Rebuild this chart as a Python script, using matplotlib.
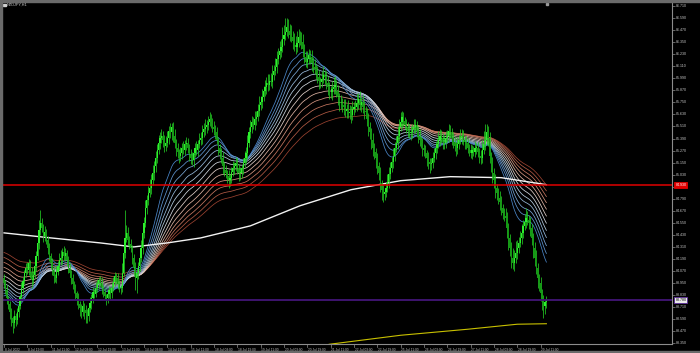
import numpy as np
import matplotlib
matplotlib.use("Agg")
import matplotlib.pyplot as plt
from matplotlib.patches import Rectangle

# ---------------- data ----------------
symbol_title = "NZDJPY,H1"
time_labels = ["8 Jul 2022", "8 Jul 19:00", "11 Jul 11:00", "12 Jul 03:00", "12 Jul 19:00",
               "13 Jul 11:00", "14 Jul 03:00", "14 Jul 19:00", "15 Jul 11:00", "18 Jul 03:00",
               "18 Jul 19:00", "19 Jul 11:00", "20 Jul 03:00", "20 Jul 19:00", "21 Jul 11:00",
               "22 Jul 03:00", "22 Jul 19:00", "25 Jul 11:00", "26 Jul 03:00", "26 Jul 19:00",
               "27 Jul 11:00", "28 Jul 03:00", "28 Jul 19:00", "29 Jul 11:00"]
bars_per_label = 16

# hourly closes (one row per 16 bars)
close = [
    83.95, 83.88, 83.80, 83.74, 83.66, 83.60, 83.55, 83.62, 83.58, 83.66, 83.72, 83.81, 83.90, 83.97, 84.05, 84.10,
    84.08, 84.15, 84.06, 83.98, 84.03, 84.12, 84.22, 84.35, 84.48, 84.55, 84.50, 84.42, 84.46, 84.38, 84.30, 84.22,
    84.15, 84.08, 84.02, 84.00, 84.06, 84.12, 84.18, 84.20, 84.26, 84.22, 84.25, 84.18, 84.10, 84.05, 84.00, 83.94,
    83.90, 83.85, 83.80, 83.74, 83.70, 83.66, 83.72, 83.68, 83.65, 83.62, 83.70, 83.75, 83.80, 83.86, 83.84, 83.90,
    83.94, 83.98, 83.95, 83.90, 83.86, 83.82, 83.80, 83.84, 83.88, 83.85, 83.90, 83.96, 84.02, 84.00, 83.94, 83.90,
    83.90, 84.05, 84.25, 84.40, 84.45, 84.38, 84.34, 84.30, 84.20, 84.10, 84.00, 84.05, 84.12, 84.20, 84.30, 84.45,
    84.55, 84.70, 84.78, 84.85, 84.90, 84.98, 85.05, 85.12, 85.20, 85.28, 85.35, 85.40, 85.42, 85.38, 85.32, 85.35,
    85.40, 85.46, 85.45, 85.50, 85.42, 85.35, 85.30, 85.26, 85.22, 85.25, 85.30, 85.28, 85.34, 85.35, 85.30, 85.24,
    85.20, 85.18, 85.25, 85.30, 85.28, 85.34, 85.38, 85.40, 85.45, 85.48, 85.50, 85.52, 85.55, 85.58, 85.55, 85.50,
    85.48, 85.45, 85.38, 85.30, 85.25, 85.20, 85.12, 85.08, 85.05, 85.02, 84.98, 85.00, 85.06, 85.10, 85.12, 85.15,
    85.10, 85.05, 85.05, 85.10, 85.15, 85.20, 85.25, 85.35, 85.45, 85.50, 85.55, 85.52, 85.58, 85.60, 85.66, 85.72,
    85.75, 85.80, 85.86, 85.90, 85.94, 85.92, 85.96, 85.95, 86.02, 86.06, 86.10, 86.18, 86.22, 86.26, 86.30, 86.38,
    86.42, 86.45, 86.50, 86.46, 86.42, 86.40, 86.36, 86.32, 86.30, 86.34, 86.40, 86.38, 86.35, 86.28, 86.20, 86.15,
    86.18, 86.22, 86.20, 86.14, 86.10, 86.08, 86.05, 86.00, 85.96, 85.95, 85.98, 86.02, 86.00, 85.94, 85.90, 85.85,
    85.85, 85.88, 85.90, 85.92, 85.86, 85.80, 85.75, 85.74, 85.72, 85.70, 85.66, 85.68, 85.64, 85.65, 85.62, 85.68,
    85.70, 85.70, 85.74, 85.78, 85.72, 85.75, 85.70, 85.66, 85.65, 85.58, 85.50, 85.45, 85.38, 85.30, 85.26, 85.20,
    85.12, 85.05, 84.95, 84.88, 84.84, 84.86, 84.90, 84.96, 85.04, 85.10, 85.16, 85.22, 85.30, 85.35, 85.42, 85.50,
    85.55, 85.60, 85.56, 85.52, 85.50, 85.46, 85.44, 85.45, 85.48, 85.50, 85.52, 85.46, 85.42, 85.38, 85.35, 85.30,
    85.28, 85.25, 85.20, 85.16, 85.14, 85.15, 85.20, 85.25, 85.30, 85.34, 85.38, 85.42, 85.40, 85.36, 85.35, 85.40,
    85.42, 85.46, 85.45, 85.40, 85.36, 85.32, 85.30, 85.34, 85.38, 85.40, 85.42, 85.38, 85.36, 85.35, 85.30, 85.28,
    85.25, 85.28, 85.26, 85.30, 85.30, 85.26, 85.22, 85.20, 85.28, 85.34, 85.38, 85.45, 85.40, 85.22, 85.15, 85.05,
    84.98, 84.90, 84.85, 84.80, 84.76, 84.70, 84.65, 84.62, 84.60, 84.50, 84.40, 84.30, 84.20, 84.15, 84.20, 84.25,
    84.30, 84.35, 84.40, 84.45, 84.52, 84.56, 84.60, 84.58, 84.55, 84.50, 84.40, 84.30, 84.20, 84.10, 84.00, 83.95,
    83.85, 83.78, 83.72, 83.76, 83.78,
]
first_open = 84.00

# upper / lower wick lengths in hundredths of a yen
wick_up = [
    4, 3, 5, 2, 3, 4, 2, 6, 3, 4, 5, 3, 6, 4, 3, 5,
    6, 4, 3, 5, 4, 6, 5, 8, 10, 13, 5, 4, 6, 3, 4, 5,
    3, 5, 4, 2, 6, 5, 7, 8, 4, 6, 5, 3, 4, 5, 3, 4,
    3, 4, 2, 5, 3, 4, 6, 3, 5, 4, 3, 6, 4, 5, 3, 6,
    5, 3, 4, 6, 3, 4, 2, 5, 4, 3, 6, 5, 4, 3, 5, 4,
    3, 10, 12, 28, 8, 6, 4, 5, 3, 4, 6, 5, 4, 6, 8, 10,
    6, 8, 5, 7, 9, 6, 8, 5, 7, 6, 8, 5, 6, 4, 5, 7,
    6, 5, 8, 4, 5, 6, 4, 5, 3, 6, 5, 7, 4, 6, 5, 4,
    5, 6, 4, 5, 7, 4, 6, 5, 7, 6, 8, 5, 6, 7, 5, 4,
    6, 4, 5, 3, 4, 5, 6, 4, 5, 3, 6, 4, 5, 7, 4, 6,
    5, 4, 6, 3, 5, 7, 6, 8, 5, 7, 6, 5, 8, 6, 7, 9,
    6, 8, 5, 7, 6, 9, 7, 8, 10, 6, 9, 8, 7, 10, 8, 12,
    10, 14, 9, 8, 7, 10, 6, 8, 9, 12, 8, 6, 7, 8, 5, 6,
    8, 6, 5, 7, 6, 8, 5, 6, 7, 4, 8, 9, 5, 6, 7, 5,
    6, 8, 10, 9, 5, 6, 4, 7, 5, 6, 8, 5, 9, 7, 6, 8,
    5, 7, 9, 6, 8, 5, 7, 6, 5, 4, 6, 5, 4, 6, 5, 4,
    5, 4, 6, 3, 5, 4, 6, 8, 7, 6, 5, 8, 6, 7, 9, 8,
    10, 6, 5, 4, 6, 5, 7, 6, 5, 8, 6, 4, 5, 6, 4, 5,
    4, 5, 3, 6, 4, 5, 6, 5, 7, 6, 8, 6, 5, 4, 7, 6,
    5, 7, 6, 4, 5, 6, 4, 7, 5, 8, 6, 5, 4, 6, 5, 4,
    6, 5, 4, 7, 5, 6, 4, 6, 10, 12, 15, 8, 6, 5, 4, 6,
    5, 6, 4, 5, 7, 6, 4, 5, 8, 6, 5, 4, 6, 10, 8, 12,
    8, 6, 7, 9, 6, 8, 10, 7, 5, 6, 4, 5, 6, 8, 5, 4,
    6, 4, 5, 3, 4,
]
wick_dn = [
    5, 4, 6, 5, 7, 8, 10, 5, 6, 4, 5, 3, 4, 5, 3, 4,
    4, 5, 6, 8, 4, 3, 5, 4, 6, 5, 4, 6, 5, 4, 6, 5,
    6, 5, 7, 4, 5, 3, 4, 5, 6, 4, 5, 6, 5, 4, 6, 5,
    5, 6, 7, 5, 8, 6, 4, 9, 10, 7, 5, 4, 6, 5, 4, 3,
    4, 5, 3, 6, 5, 4, 7, 5, 4, 6, 5, 3, 4, 6, 5, 4,
    6, 4, 3, 5, 4, 6, 5, 4, 6, 8, 12, 15, 6, 5, 4, 6,
    5, 4, 6, 5, 4, 6, 5, 7, 6, 5, 4, 6, 5, 7, 6, 5,
    4, 6, 5, 7, 6, 5, 8, 6, 7, 5, 6, 4, 5, 6, 5, 7,
    6, 5, 7, 4, 5, 6, 4, 5, 6, 4, 5, 6, 5, 4, 6, 5,
    5, 6, 4, 7, 6, 5, 8, 6, 5, 7, 8, 6, 5, 4, 6, 5,
    6, 8, 7, 5, 6, 4, 5, 6, 4, 5, 6, 4, 5, 6, 4, 5,
    5, 6, 4, 5, 7, 6, 5, 4, 6, 5, 4, 6, 5, 4, 6, 5,
    6, 5, 4, 7, 6, 5, 8, 6, 7, 5, 4, 6, 7, 8, 6, 5,
    6, 5, 7, 8, 6, 5, 7, 6, 8, 6, 5, 4, 7, 6, 8, 7,
    6, 8, 5, 7, 6, 8, 9, 6, 7, 8, 6, 7, 5, 6, 8, 5,
    6, 5, 4, 6, 5, 7, 6, 8, 6, 7, 8, 6, 9, 8, 7, 10,
    8, 7, 9, 10, 8, 6, 5, 4, 6, 5, 4, 6, 5, 4, 6, 5,
    4, 6, 5, 4, 6, 5, 4, 6, 5, 4, 6, 5, 7, 6, 5, 8,
    6, 5, 8, 7, 9, 6, 5, 4, 6, 5, 4, 6, 5, 7, 6, 5,
    4, 6, 5, 7, 6, 5, 8, 6, 5, 4, 6, 5, 7, 6, 5, 6,
    5, 6, 4, 5, 6, 5, 7, 6, 5, 4, 6, 5, 8, 7, 9, 10,
    8, 10, 7, 6, 8, 7, 6, 5, 8, 10, 12, 8, 10, 6, 8, 5,
    6, 5, 4, 6, 5, 4, 6, 5, 6, 8, 7, 10, 8, 6, 10, 8,
    8, 10, 12, 8, 6,
]

# rainbow moving averages: periods and their values at the first visible bar
rainbow_periods = [22, 28, 34, 41, 48, 56, 65, 75, 86, 98, 112, 130]
rainbow_start = [83.81, 83.84, 83.87, 83.90, 83.94, 83.98, 84.02, 84.07, 84.11, 84.16, 84.21, 84.26]
rainbow_colors = ['#4a86c8', '#5f95d0', '#7aa7d6', '#97badb', '#b6cde0', '#d2d8e0',
                  '#e0cfc8', '#deb4a4', '#d49580', '#c67660', '#b25a44', '#9a4230']

# long moving averages (bar index, price)
white_bars = [0, 32, 66, 89, 112, 135, 169, 203, 238, 272, 306, 341, 372]
white_vals = [84.45, 84.40, 84.35, 84.31, 84.35, 84.40, 84.52, 84.72, 84.88, 84.97, 85.01, 85.00, 84.93]
yellow_bars = [223, 272, 318, 352, 372]
yellow_vals = [83.34, 83.43, 83.49, 83.54, 83.545]

red_level = 84.930
price_ticks = [86.710, 86.590, 86.470, 86.350, 86.230, 86.110, 85.990, 85.870, 85.750, 85.630,
               85.510, 85.390, 85.270, 85.150, 85.030, 84.910, 84.790, 84.670, 84.550, 84.430,
               84.310, 84.190, 84.070, 83.950, 83.830, 83.710, 83.590, 83.470, 83.350]

# ---------------- figure ----------------
plt.rcParams['font.family'] = ['Liberation Sans', 'DejaVu Sans']
W, H = 700, 353
fig = plt.figure(figsize=(W / 100, H / 100), dpi=100, facecolor='black')
ax_l, ax_r, ax_t, ax_b = 3, 672, 3, 344
ax = fig.add_axes([ax_l / W, 1 - ax_b / H, (ax_r - ax_l) / W, (ax_b - ax_t) / H])
ax.set_facecolor('black')

YMIN, YMAX = 83.343, 86.740
px_per_bar = 1.458
bar0_px = 4.0
xmin = -(bar0_px - ax_l) / px_per_bar
xmax = xmin + (ax_r - ax_l) / px_per_bar
ax.set_xlim(xmin, xmax)
ax.set_ylim(YMIN, YMAX)

c = np.array(close)
n = len(c)
x = np.arange(n)
o = np.r_[first_open, c[:-1]]
hi = np.maximum(o, c) + np.array(wick_up) / 100.0
lo = np.minimum(o, c) - np.array(wick_dn) / 100.0

# rainbow EMAs
for per, st, col in zip(rainbow_periods[::-1], rainbow_start[::-1], rainbow_colors[::-1]):
    a = 2.0 / (per + 1)
    v = st
    vals = np.empty(n)
    for i in range(n):
        v = v + a * (c[i] - v)
        vals[i] = v
    ax.plot(x, vals, color=col, lw=0.55, zorder=2)

ax.plot(white_bars, white_vals, color='#f2f2f2', lw=1.0, zorder=3)
ax.plot(yellow_bars, yellow_vals, color='#c8c000', lw=0.8, zorder=3)

# candles
up = c >= o
ax.vlines(x, lo, hi, color='#22c822', lw=0.55, zorder=4)
body_lo = np.minimum(o, c)
body_h = np.maximum(np.abs(c - o), 0.006)
ax.bar(x[up], body_h[up], bottom=body_lo[up], width=0.8, color='#2cf02c', lw=0, zorder=5)
ax.bar(x[~up], body_h[~up], bottom=body_lo[~up], width=0.8, color='#139a13', lw=0, zorder=5)

# horizontal levels
ax.axhline(red_level, color='#e00000', lw=1.1, zorder=6)
bid = c[-1]
ax.axhline(bid, color='#3e1470', lw=1.4, zorder=6)

# axes styling
for s in ['left', 'top']:
    ax.spines[s].set_visible(False)
for s in ['right', 'bottom']:
    ax.spines[s].set_color('#8c8c8c')
    ax.spines[s].set_linewidth(0.8)
ax.set_xticks([])
ax.yaxis.tick_right()
ax.set_yticks(price_ticks)
ax.tick_params(axis='y', length=2, width=0.5, color='#8c8c8c', pad=1)
ax.set_yticklabels([])

txt_col = '#c8c8c8'
fs_y = 2.6
fs_x = 2.3
for t in price_ticks:
    if abs(t - red_level) < 0.04 or abs(t - bid) < 0.03:
        continue
    ax.text(1.006, (t - YMIN) / (YMAX - YMIN), f"{t:.3f}", transform=ax.transAxes,
            ha='left', va='center', fontsize=fs_y, color=txt_col)

# price labels on the scale
def scale_label(price, face, edge, tcol):
    yf = (price - YMIN) / (YMAX - YMIN)
    ax.text(1.005, yf, f"{price:.3f}", transform=ax.transAxes, ha='left', va='center',
            fontsize=fs_y, color=tcol, zorder=10, clip_on=False,
            bbox=dict(boxstyle='square,pad=0.3', fc=face, ec=edge, lw=0.6))

scale_label(red_level, '#e00000', '#e00000', 'white')
scale_label(bid, '#e8e8e8', '#5a2a9a', 'black')

# time labels
for k, lab in enumerate(time_labels):
    bx = k * bars_per_label
    ax.plot([bx, bx], [0, -0.008], transform=ax.get_xaxis_transform(), color='#8c8c8c',
            lw=0.5, clip_on=False)
    ax.text(bx + 0.6, -0.011, lab, transform=ax.get_xaxis_transform(), ha='left', va='top',
            fontsize=fs_x, color=txt_col, clip_on=False)

# title
fig.text(7 / W, 1 - 4.5 / H, symbol_title, ha='left', va='center', fontsize=2.8, color=txt_col)
fig.patches.append(Rectangle((3 / W, 1 - 6 / H), 2.5 / W, 2.5 / H, transform=fig.transFigure,
                             color='#d0d0d0'))
# chart shift marker
fig.patches.append(Rectangle((546 / W, 1 - 5 / H), 2 / W, 2 / H, transform=fig.transFigure,
                             color='#9a9a9a'))

# window frame
frame = '#6a6a6a'
fig.patches.append(Rectangle((0, 1 - 2 / H), 1, 2 / H, transform=fig.transFigure, color=frame))
fig.patches.append(Rectangle((0, 0), 2 / W, 1, transform=fig.transFigure, color=frame))
fig.patches.append(Rectangle((0, 0), 1, 2 / H, transform=fig.transFigure, color=frame))

fig.savefig('out.png', dpi=100, facecolor='black')
